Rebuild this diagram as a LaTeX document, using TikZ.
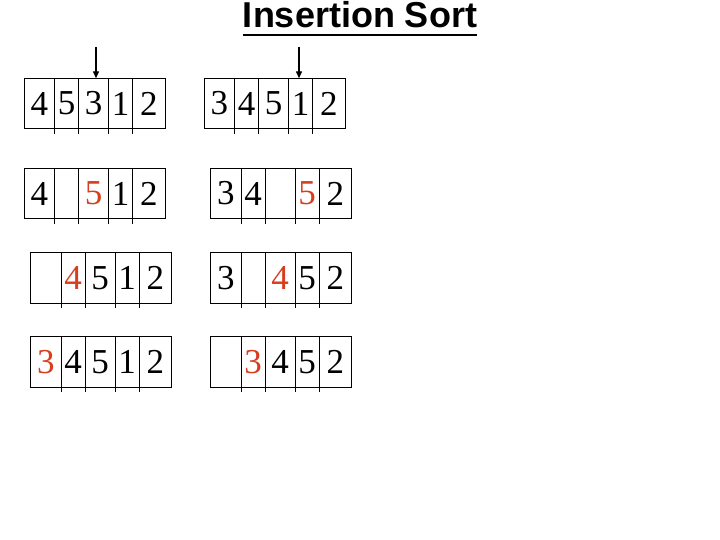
\documentclass[tikz,border=0pt]{standalone}
\usepackage{fontspec}
\setmainfont{Liberation Serif}
\newfontfamily\titlefont{Liberation Sans}
\usetikzlibrary{arrows.meta}
\definecolor{hl}{RGB}{214,62,30}
\tikzset{
  cellbox/.style={draw, line width=0.8pt, inner sep=0pt, outer sep=0pt,
    minimum height=50.5pt, anchor=north west,
    font=\fontsize{35}{35}\selectfont},
  celltick/.style={line width=0.8pt},
  pointer/.style={line width=1.4pt, -{Triangle[length=7pt,width=6pt]}}
}
\newcommand\insrow[8]{%
  \coordinate (#1-o) at (#2,#3);
  \node[cellbox, minimum width=30.8pt] (#1-1) at (#1-o) {#4};
  \node[cellbox, minimum width=23.7pt] (#1-2) at (#1-1.north east) {#5};
  \node[cellbox, minimum width=30.1pt] (#1-3) at (#1-2.north east) {#6};
  \node[cellbox, minimum width=24.0pt] (#1-4) at (#1-3.north east) {#7};
  \node[cellbox, minimum width=32.4pt] (#1-5) at (#1-4.north east) {#8};
  \foreach \k in {1,2,3,4} \draw[celltick] (#1-\k.south east) -- ++(0,5);
}
\newcommand\hlx[1]{{\color{hl}#1}}
\begin{document}
\begin{tikzpicture}[x=1pt,y=-1pt]
\useasboundingbox (0,0) rectangle (720,540);
% title
\node[font=\titlefont\bfseries\fontsize{36}{36}\selectfont, inner sep=0pt, anchor=base]
  (title) at (360,27.8) {Insertion Sort};
\coordinate (ul) at (0,35);
\draw[line width=2.5pt] (title.west |- ul) -- (title.east |- ul);
% rows
\insrow{r1l}{24}{78.3}{4}{5}{3}{1}{2}
\insrow{r1r}{204}{78.3}{3}{4}{5}{1}{2}
\insrow{r2l}{24}{168.3}{4}{}{\hlx{5}}{1}{2}
\insrow{r2r}{210.5}{168.3}{3}{4}{}{\hlx{5}}{2}
\insrow{r3l}{30.5}{252.5}{}{\hlx{4}}{5}{1}{2}
\insrow{r3r}{210.5}{252.5}{3}{}{\hlx{4}}{5}{2}
\insrow{r4l}{30.5}{336.7}{\hlx{3}}{4}{5}{1}{2}
\insrow{r4r}{210.5}{336.7}{}{\hlx{3}}{4}{5}{2}
% pointers
\coordinate (a1) at (96,47);
\coordinate (a2) at (299,47);
\draw[pointer] (a1) -- (a1 |- r1l-3.north);
\draw[pointer] (a2) -- (a2 |- r1r-4.north);
\end{tikzpicture}
\end{document}
